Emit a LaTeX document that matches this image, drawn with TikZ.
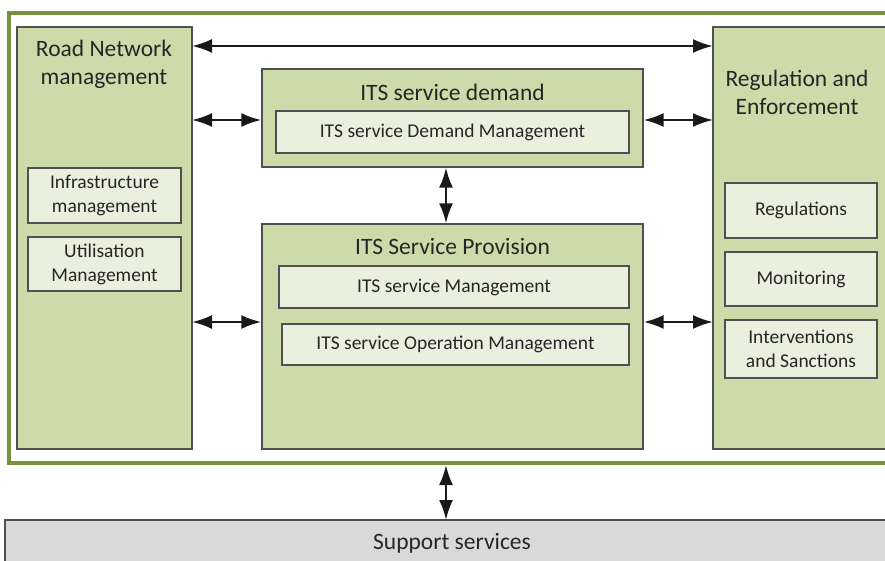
\documentclass[tikz,border=0pt]{standalone}
\usepackage{fontspec}
\setmainfont{Carlito}
\usetikzlibrary{arrows.meta}
\definecolor{boxgreen}{RGB}{204,219,169}
\definecolor{innergreen}{RGB}{235,240,222}
\definecolor{framegreen}{RGB}{118,146,60}
\definecolor{boxline}{RGB}{80,80,80}
\definecolor{supportgray}{RGB}{217,217,217}
\definecolor{textgray}{RGB}{38,38,38}
\begin{document}
\begin{tikzpicture}[x=1pt,y=-1pt,
  bigbox/.style={draw=boxline,line width=1.3pt,fill=boxgreen},
  smallbox/.style={draw=boxline,line width=1.3pt,fill=innergreen,text=textgray,align=center,
    font=\fontsize{19.5}{24}\selectfont},
  title/.style={text=textgray,align=center,font=\fontsize{23.5}{28}\selectfont},
  link/.style={line width=2.4pt,{Latex[length=20pt,width=14pt]}-{Latex[length=20pt,width=14pt]},draw=black!90}
]
\useasboundingbox (0,0) rectangle (885,561);
\clip (0,0) rectangle (885,561);
% outer frame
\draw[framegreen,line width=4pt,fill=white] (9,13) rectangle (900,463);
% main boxes
\path[bigbox] (17,27) rectangle (192,449);
\coordinate (rnL) at (192,46);
\coordinate (rnM) at (192,120);
\coordinate (rnB) at (192,322);
\node[title] (rntitle) at (104,64) {Road Network\\management};
\node[smallbox,minimum width=153pt,minimum height=55pt] (infra) at (104.5,195.5) {Infrastructure\\management};
\node[smallbox,minimum width=153pt,minimum height=54pt] (util) at (104.5,264) {Utilisation\\Management};

\node[bigbox,minimum width=381pt,minimum height=98pt,inner sep=0pt] (demand) at (452.5,118) {};
\node[title] (demandtitle) at (452.5,92) {ITS service demand};
\node[smallbox,minimum width=353pt,minimum height=42pt] (dm) at (452.5,132) {ITS service Demand Management};

\node[bigbox,minimum width=381pt,minimum height=225pt,inner sep=0pt] (prov) at (452.5,336.5) {};
\node[title] (provtitle) at (452.5,247) {ITS Service Provision};
\node[smallbox,minimum width=350pt,minimum height=42pt] (sm) at (454,287) {ITS service Management};
\node[smallbox,minimum width=347pt,minimum height=41pt] (om) at (455.5,344.5) {ITS service Operation Management};

\path[bigbox] (713,27) rectangle (900,449);
\coordinate (reL) at (713,46);
\coordinate (reM) at (713,120);
\coordinate (reB) at (713,322);
\node[title] (retitle) at (797,92) {Regulation and\\Enforcement};
\node[smallbox,minimum width=152pt,minimum height=55pt] (regs) at (801,210.5) {Regulations};
\node[smallbox,minimum width=152pt,minimum height=54pt] (mon) at (801,279) {Monitoring};
\node[smallbox,minimum width=152pt,minimum height=58pt] (int) at (801,349) {Interventions\\and Sanctions};

% support
\path[draw=boxline,line width=1.3pt,fill=supportgray] (5,520) rectangle (900,580);
\node[title] (support) at (452,543) {Support services};
\coordinate (supTop) at (446,520);
\coordinate (frameBot) at (446,465);

% connectors
\draw[link] (rnL) -- (reL);
\draw[link] (rnM) -- (demand.west |- rnM);
\draw[link] (demand.east |- reM) -- (reM);
\draw[link] (rnB) -- (prov.west |- rnB);
\draw[link] (prov.east |- reB) -- (reB);
\draw[link] (demand.south -| frameBot) -- (prov.north -| frameBot);
\draw[link] (frameBot) -- (supTop);
\end{tikzpicture}
\end{document}
